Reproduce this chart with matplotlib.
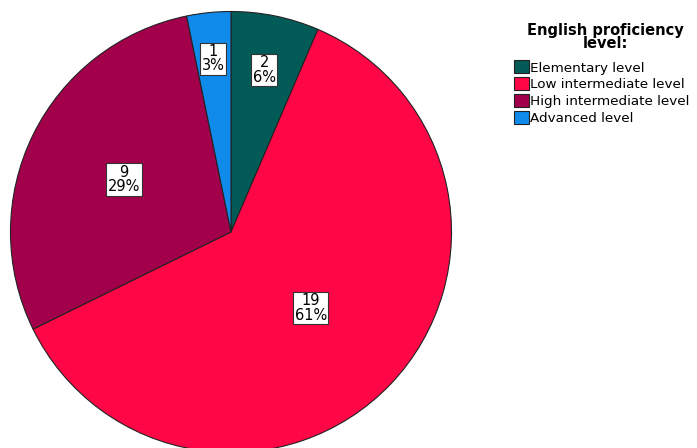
import matplotlib.pyplot as plt
import numpy as np

levels = ['Elementary level', 'Low intermediate level',
          'High intermediate level', 'Advanced level']
counts = [2, 19, 9, 1]
colors = ['#035b57', '#ff0646', '#a3004c', '#108bec']
label_radius = [0.75, 0.50, 0.54, 0.79]

fig = plt.figure(figsize=(6.97, 4.48), dpi=100)
ax = fig.add_axes([0, 0, 1, 1])

cx, cy, r = 231, 216, 220.5
wedges, _ = ax.pie(counts, colors=colors, startangle=90, counterclock=False,
                   center=(cx, cy), radius=r, frame=True,
                   wedgeprops=dict(edgecolor='#222222', linewidth=0.8))
ax.set_xlim(0, 697)
ax.set_ylim(0, 448)
ax.set_axis_off()

total = sum(counts)
for w, n, k in zip(wedges, counts, label_radius):
    ang = np.deg2rad((w.theta1 + w.theta2) / 2)
    x = cx + k * r * np.cos(ang)
    y = cy + k * r * np.sin(ang)
    ax.text(x, y, f'{n}\n{round(100 * n / total)}%', ha='center', va='center',
            fontsize=10.5, linespacing=0.95,
            bbox=dict(boxstyle='square,pad=0.1', fc='white', ec='#333333', lw=0.8))

fig.text(0.868, 0.918, 'English proficiency\nlevel:', ha='center', va='center',
         fontsize=10.5, fontweight='bold', linespacing=0.85)
fig.legend(wedges, levels, loc='upper left', bbox_to_anchor=(0.737, 0.865),
           frameon=False, fontsize=9.7, handlelength=1.1, handleheight=1.1,
           handletextpad=0.12, labelspacing=0.2, borderaxespad=0, borderpad=0)

fig.savefig('out.png', dpi=100)
